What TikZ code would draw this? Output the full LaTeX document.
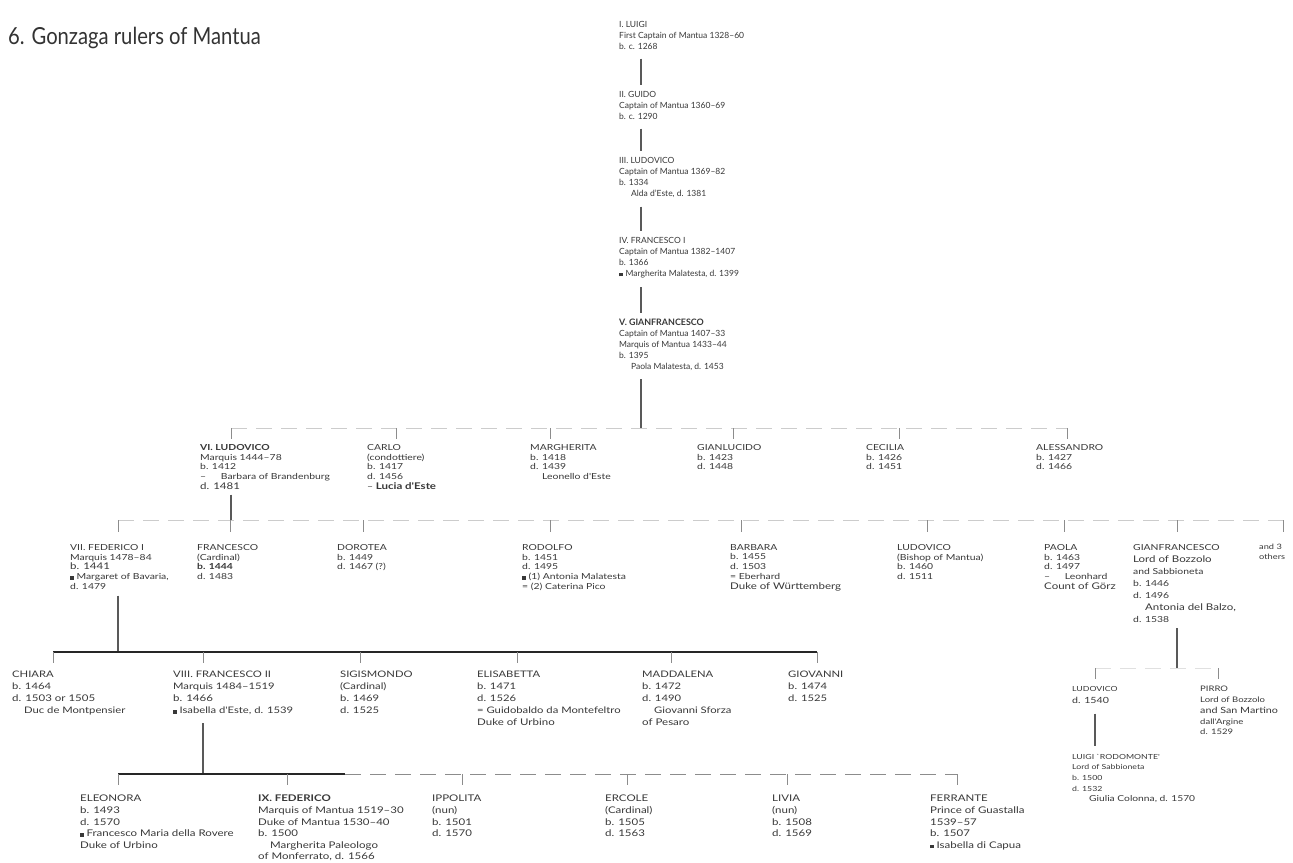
\documentclass[tikz,border=0pt]{standalone}
\usepackage{fontspec}
\setmainfont{Lato}
\newfontfamily\wf{Lato}[FakeStretch=1.25]
\newfontfamily\tf{Lato}[FakeStretch=0.86]
\newcommand{\mq}{\rule{3.4pt}{3.4pt}\hspace{3pt}}
\newcommand{\lgt}{\fontsize{9.2}{10}\selectfont}
\newcommand{\ind}{\hspace*{12pt}}
\begin{document}
\begin{tikzpicture}[x=1pt,y=-1pt,
  person/.style={anchor=north west, align=left, inner sep=0pt, text=black!78,
    font=\wf\fontsize{8.3}{9.8}\selectfont},
  chain/.style={person, font=\fontsize{8.5}{11}\selectfont},
  rowfour/.style={person, font=\wf\fontsize{9.0}{12}\selectfont},
  rowfive/.style={person, font=\wf\fontsize{9.2}{11.6}\selectfont},
  trunk/.style={draw=black!65, line width=1.1pt},
  tick/.style={draw=black!45, line width=0.6pt},
  faint/.style={draw=black!20, line width=0.8pt, dash pattern=on 16pt off 9pt},
  dark/.style={draw=black!85, line width=1.3pt},
  title/.style={anchor=west, inner sep=0pt, text=black!80, font=\tf\fontsize{23.5}{26}\selectfont}
]
\useasboundingbox (0,0) rectangle (1293,862);
\fill[white] (0,0) rectangle (1293,862);

\node[title] (ttl) at (8,38) {6. Gonzaga rulers of Mantua};

% ---------- main chain ----------
\coordinate (ax) at (641,0);
\node[chain] (n1) at (619,21) {I. LUIGI\\First Captain of Mantua 1328–60\\b. c. 1268};
\node[chain] (n2) at (619,91) {II. GUIDO\\Captain of Mantua 1360–69\\b. c. 1290};
\node[chain] (n3) at (619,157) {III. LUDOVICO\\Captain of Mantua 1369–82\\b. 1334\\\ind Alda d'Este, d. 1381};
\node[chain] (n4) at (619,237) {IV. FRANCESCO I\\Captain of Mantua 1382–1407\\b. 1366\\\mq Margherita Malatesta, d. 1399};
\node[chain] (n5) at (619,319) {{\fontsize{8.9}{10}\selectfont\bfseries V. GIANFRANCESCO}\\Captain of Mantua 1407–33\\Marquis of Mantua 1433–44\\b. 1395\\\ind Paola Malatesta, d. 1453};
\draw[trunk] ([yshift=-9pt]n1.south -| ax) -- ([yshift=6pt]n2.north -| ax);
\draw[trunk] ([yshift=-9pt]n2.south -| ax) -- ([yshift=6pt]n3.north -| ax);
\draw[trunk] ([yshift=-9pt]n3.south -| ax) -- ([yshift=6pt]n4.north -| ax);
\draw[trunk] ([yshift=-9pt]n4.south -| ax) -- ([yshift=6pt]n5.north -| ax);

% ---------- children of Gianfrancesco ----------
\coordinate (r2t) at (641,428);
\coordinate (r2L) at (231,428);
\coordinate (r2R) at (1067,428);
\draw[trunk] ([yshift=-8pt]n5.south -| ax) -- (r2t);
\draw[faint] (r2L) -- (r2R);
\node[person] (c1) at (200,444) {{\bfseries VI. LUDOVICO}\\Marquis 1444–78\\b. 1412\\– \ind Barbara of Brandenburg\\{\lgt d. 1481}};
\node[person] (c2) at (367,444) {CARLO\\(condottiere)\\b. 1417\\d. 1456\\– {\lgt\bfseries Lucia d'Este}};
\node[person] (c3) at (530,444) {MARGHERITA\\b. 1418\\d. 1439\\\ind Leonello d'Este};
\node[person] (c4) at (697,444) {GIANLUCIDO\\b. 1423\\d. 1448};
\node[person] (c5) at (866,444) {CECILIA\\b. 1426\\d. 1451};
\node[person] (c6) at (1036,444) {ALESSANDRO\\b. 1427\\d. 1466};
\foreach \n/\dx in {c1/31,c2/29,c3/20,c4/36,c5/33,c6/31}
  \draw[tick] ([xshift=\dx pt,yshift=16pt]\n.north west) -- ([xshift=\dx pt,yshift=5pt]\n.north west);

% ---------- children of Ludovico ----------
\coordinate (lx) at (231,0);
\coordinate (r3t) at (231,520);
\coordinate (r3L) at (118,520);
\coordinate (r3R) at (1283,520);
\draw[trunk] ([yshift=-5pt]c1.south -| lx) -- (r3t);
\draw[faint] (r3L) -- (r3R);
\node[person] (d1) at (70,544) {VII. FEDERICO I\\Marquis 1478–84\\{\lgt b. 1441}\\\mq Margaret of Bavaria,\\d. 1479};
\node[person] (d2) at (197,544) {FRANCESCO\\(Cardinal)\\{\bfseries b. 1444}\\d. 1483};
\node[person] (d3) at (337,544) {DOROTEA\\b. 1449\\d. 1467 (?)};
\node[person] (d4) at (522,544) {RODOLFO\\b. 1451\\d. 1495\\\mq (1) Antonia Malatesta\\= (2) Caterina Pico};
\node[person] (d5) at (730,544) {BARBARA\\b. 1455\\d. 1503\\= Eberhard\\{\lgt Duke of Württemberg}};
\node[person] (d6) at (897,544) {LUDOVICO\\(Bishop of Mantua)\\b. 1460\\d. 1511};
\node[person] (d7) at (1044,544) {PAOLA\\b. 1463\\d. 1497\\– \ind Leonhard\\{\lgt Count of Görz}};
\node[person, font=\wf\fontsize{8.3}{12}\selectfont] (d8) at (1133,544) {GIANFRANCESCO\\{\lgt Lord of Bozzolo}\\and Sabbioneta\\b. 1446\\d. 1496\\\ind {\lgt Antonia del Balzo,}\\d. 1538};
\node[person, font=\wf\fontsize{7.4}{9.8}\selectfont] (d9) at (1259,544) {and 3\\others};
\foreach \n/\dx in {d1/48,d2/33,d3/26,d4/28,d5/11,d6/30,d7/20,d8/44,d9/24}
  \draw[tick] ([xshift=\dx pt,yshift=24pt]\n.north west) -- ([xshift=\dx pt,yshift=12pt]\n.north west);

% ---------- children of Federico I ----------
\coordinate (fx) at (118,0);
\coordinate (r4t) at (118,652);
\coordinate (r4L) at (53,652);
\coordinate (r4R) at (817,652);
\draw[trunk] ([yshift=-6pt]d1.south -| fx) -- (r4t);
\draw[dark] (r4L) -- (r4R);
\node[rowfour] (e1) at (12,671) {CHIARA\\b. 1464\\{\lgt d. 1503 or 1505}\\\ind Duc de Montpensier};
\node[rowfour] (e2) at (173,671) {VIII. FRANCESCO II\\Marquis 1484–1519\\{\lgt b. 1466}\\\mq Isabella d'Este, d. 1539};
\node[rowfour] (e3) at (340,671) {SIGISMONDO\\(Cardinal)\\b. 1469\\d. 1525};
\node[rowfour] (e4) at (477,671) {ELISABETTA\\b. 1471\\d. 1526\\= Guidobaldo da Montefeltro\\{\lgt Duke of Urbino}};
\node[rowfour] (e5) at (642,671) {MADDALENA\\b. 1472\\d. 1490\\\ind Giovanni Sforza\\{\lgt of Pesaro}};
\node[rowfour] (e6) at (788,671) {GIOVANNI\\b. 1474\\d. 1525};
\foreach \n/\dx in {e1/41,e2/30,e3/20,e4/40,e5/29,e6/29}
  \draw[tick] ([xshift=\dx pt,yshift=19pt]\n.north west) -- ([xshift=\dx pt,yshift=8pt]\n.north west);

% ---------- children of Gianfrancesco of Bozzolo ----------
\coordinate (gx) at (1177,0);
\coordinate (rbt) at (1177,668);
\coordinate (rbL) at (1095,668);
\coordinate (rbR) at (1218,668);
\draw[trunk] ([yshift=-6pt]d8.south -| gx) -- (rbt);
\draw[faint, draw=black!12] (rbL) -- (rbR);
\node[person, font=\wf\fontsize{7.0}{12}\selectfont] (f1) at (1072,686) {LUDOVICO\\{\fontsize{8.5}{10}\selectfont d. 1540}};
\node[person, font=\wf\fontsize{7.6}{10.8}\selectfont] (f2) at (1200,686) {PIRRO\\Lord of Bozzolo\\{\fontsize{8.6}{10}\selectfont and San Martino}\\dall'Argine\\d. 1529};
\foreach \n/\dx in {f1/23,f2/18}
  \draw[tick] ([xshift=\dx pt,yshift=18pt]\n.north west) -- ([xshift=\dx pt,yshift=7pt]\n.north west);
\coordinate (hx) at (1095,0);
\node[person, font=\wf\fontsize{7.0}{10.6}\selectfont] (g1) at (1072,754) {LUIGI `RODOMONTE'\\Lord of Sabbioneta\\b. 1500\\d. 1532\\\hspace*{17pt}{\fontsize{8.2}{10}\selectfont Giulia Colonna, d. 1570}};
\draw[trunk] ([yshift=-10pt]f1.south -| hx) -- ([yshift=8pt]g1.north -| hx);

% ---------- children of Francesco II ----------
\coordinate (kx) at (203,0);
\coordinate (r5t) at (203,774);
\coordinate (r5L) at (118,774);
\coordinate (r5M) at (345,774);
\coordinate (r5R) at (957,774);
\draw[trunk] ([yshift=-8pt]e2.south -| kx) -- (r5t);
\draw[dark] (r5L) -- (r5M);
\draw[faint, draw=black!45] (r5M) -- (r5R);
\node[rowfive] (h1) at (80,795) {ELEONORA\\b. 1493\\{\lgt d. 1570}\\\mq Francesco Maria della Rovere\\Duke of Urbino};
\node[rowfive] (h2) at (258,795) {{\lgt\bfseries IX. FEDERICO}\\Marquis of Mantua 1519–30\\Duke of Mantua 1530–40\\b. 1500\\\ind {\lgt Margherita Paleologo}\\of Monferrato, d. 1566};
\node[rowfive] (h3) at (432,795) {IPPOLITA\\(nun)\\b. 1501\\d. 1570};
\node[rowfive] (h4) at (605,795) {ERCOLE\\(Cardinal)\\b. 1505\\d. 1563};
\node[rowfive] (h5) at (772,795) {LIVIA\\(nun)\\b. 1508\\d. 1569};
\node[rowfive] (h6) at (930,795) {FERRANTE\\Prince of Guastalla\\1539–57\\b. 1507\\\mq Isabella di Capua};
\foreach \n/\dx in {h1/38,h2/29,h3/30,h4/22,h5/15,h6/27}
  \draw[tick] ([xshift=\dx pt,yshift=21pt]\n.north west) -- ([xshift=\dx pt,yshift=10pt]\n.north west);
\end{tikzpicture}
\end{document}
